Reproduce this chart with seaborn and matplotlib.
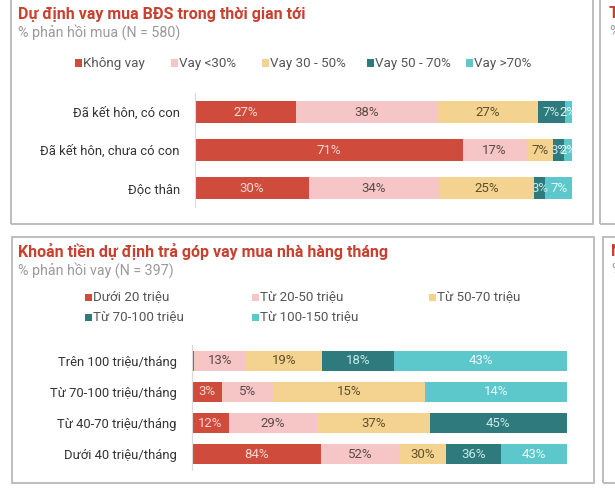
import numpy as np
import pandas as pd
import matplotlib
matplotlib.use("Agg")
import matplotlib.pyplot as plt
from matplotlib.patches import Rectangle
import seaborn as sns

# ---------------- data ----------------
top_title = "Dự định vay mua BĐS trong thời gian tới"
top_subtitle = "% phản hồi mua (N = 580)"
top_cats = ["Đã kết hôn, có con", "Đã kết hôn, chưa có con", "Độc thân"]
top_segments = ["Không vay", "Vay <30%", "Vay 30 - 50%", "Vay 50 - 70%", "Vay >70%"]
khong_vay = [27, 71, 30]
vay_lt30 = [38, 17, 34]
vay_30_50 = [27, 7, 25]
vay_50_70 = [7, 3, 3]
vay_gt70 = [2, 2, 7]

bot_title = "Khoản tiền dự định trả góp vay mua nhà hàng tháng"
bot_subtitle = "% phản hồi vay (N = 397)"
bot_cats = ["Trên 100 triệu/tháng", "Từ 70-100 triệu/tháng",
            "Từ 40-70 triệu/tháng", "Dưới 40 triệu/tháng"]
bot_segments = ["Dưới 20 triệu", "Từ 20-50 triệu", "Từ 50-70 triệu",
                "Từ 70-100 triệu", "Từ 100-150 triệu"]
duoi_20 = [0.4, 3, 12, 84]
tu_20_50 = [13, 5, 29, 52]
tu_50_70 = [19, 15, 37, 30]
tu_70_100 = [18, 0, 45, 36]
tu_100_150 = [43, 14, 0, 43]

# ---------------- style ----------------
sns.set_theme(style="white")
plt.rcParams["font.family"] = ["Roboto", "DejaVu Sans"]

seg_colors = ["#CF4B3C", "#F5C6C5", "#F3D38F", "#2F7A7C", "#5CC8CC"]
lbl_colors = ["#F7D9D4", "#5B4A4A", "#5E4F2C", "#C5EAEA", "#EAF9F9"]
RED = "#C9402F"
GRAY = "#9A9A9A"
TXT = "#333333"
BORDER = "#B8B8B8"

W, H = 615, 496
fig = plt.figure(figsize=(W / 100, H / 100), dpi=100)
fig.patch.set_facecolor("white")


def fx(px):
    return px / W


def fy(py):
    return 1 - py / H


def box(x0, y0, x1, y1):
    fig.patches.append(Rectangle((fx(x0), fy(y1)), fx(x1) - fx(x0), fy(y0) - fy(y1),
                                 transform=fig.transFigure, fill=False,
                                 edgecolor=BORDER, linewidth=1.3, zorder=0))


def long_df(cats, segs, series):
    rows = []
    for s, vals in zip(segs, series):
        for c, v in zip(cats, vals):
            rows.append({"cat": c, "seg": s, "value": v})
    df = pd.DataFrame(rows)
    df["pct"] = df["value"] / df.groupby("cat")["value"].transform("sum") * 100
    df["seg_i"] = df["seg"].map({s: i for i, s in enumerate(segs)})
    df = df.sort_values(["cat", "seg_i"])
    df["cum"] = df.groupby("cat")["pct"].cumsum()
    df["start"] = df["cum"] - df["pct"]
    return df


def stacked(ax, cats, segs, series, bar_h, fs):
    df = long_df(cats, segs, series)
    for i in reversed(range(len(segs))):
        sub = df[df["seg_i"] == i].set_index("cat").loc[cats].reset_index()
        sns.barplot(data=sub, x="cum", y="cat", order=cats, orient="h",
                    color=seg_colors[i], saturation=1, width=bar_h,
                    errorbar=None, linewidth=0, ax=ax)
    for _, r in df.iterrows():
        if r["value"] >= 1:
            yi = cats.index(r["cat"])
            ax.text(r["start"] + r["pct"] / 2, yi, f"{r['value']:.0f}%",
                    ha="center", va="center", fontsize=fs,
                    color=lbl_colors[int(r["seg_i"])], clip_on=True)
    ax.set_xlim(0, 100)
    ax.set_ylim(len(cats) - 0.5, -0.5)
    ax.set_xlabel("")
    ax.set_ylabel("")
    ax.set_xticks([])
    for sp in ["top", "right", "bottom"]:
        ax.spines[sp].set_visible(False)
    ax.spines["left"].set_color("#DADADA")
    ax.spines["left"].set_linewidth(0.8)
    ax.tick_params(axis="y", length=0, pad=11, labelsize=9.4, labelcolor=TXT)
    ax.set_facecolor("none")


def legend(items, positions, y_list):
    for (label, col), (xp, row) in zip(items, positions):
        yp = y_list[row]
        fig.patches.append(Rectangle((fx(xp), fy(yp + 3.5)), fx(7), 7 / H,
                                     transform=fig.transFigure, facecolor=col,
                                     edgecolor="none"))
        fig.text(fx(xp + 8), fy(yp), label, ha="left", va="center",
                 fontsize=9.6, color="#555555")


# ---------------- panel boxes ----------------
box(11, -5, 593, 224)
box(12, 237, 594, 483)
box(600, -5, 640, 224)
box(603, 237, 640, 483)

# ---------------- top panel ----------------
fig.text(fx(18), fy(14), top_title, ha="left", va="center", fontsize=11.5,
         fontweight="bold", color=RED)
fig.text(fx(18), fy(32), top_subtitle, ha="left", va="center", fontsize=10.3,
         color=GRAY)
legend(list(zip(top_segments, seg_colors)),
       [(75, 0), (171, 0), (262, 0), (367, 0), (466, 0)], [63])

ax1 = fig.add_axes([fx(195), fy(207), fx(572) - fx(195), (207 - 93) / H])
stacked(ax1, top_cats, top_segments,
        [khong_vay, vay_lt30, vay_30_50, vay_50_70, vay_gt70], 0.58, 9.5)

# partial neighbour panels
fig.text(fx(609), fy(14), "T", ha="left", va="center", fontsize=11.5,
         fontweight="bold", color=RED)
fig.text(fx(609), fy(32), "%", ha="left", va="center", fontsize=10.3, color=GRAY)
fig.text(fx(611), fy(252), "N", ha="left", va="center", fontsize=11.5,
         fontweight="bold", color=RED)
fig.text(fx(611), fy(270), "%", ha="left", va="center", fontsize=10.3, color=GRAY)

# ---------------- bottom panel ----------------
fig.text(fx(18), fy(252), bot_title, ha="left", va="center", fontsize=11.5,
         fontweight="bold", color=RED)
fig.text(fx(18), fy(270), bot_subtitle, ha="left", va="center", fontsize=10.3,
         color=GRAY)
legend(list(zip(bot_segments, seg_colors)),
       [(85, 0), (252, 0), (429, 0), (85, 1), (252, 1)], [297, 317])

ax2 = fig.add_axes([fx(192), fy(470), fx(567) - fx(192), (470 - 345) / H])
stacked(ax2, bot_cats, bot_segments,
        [duoi_20, tu_20_50, tu_50_70, tu_70_100, tu_100_150], 0.64, 9.5)

fig.savefig("out.png", dpi=100, facecolor="white")
